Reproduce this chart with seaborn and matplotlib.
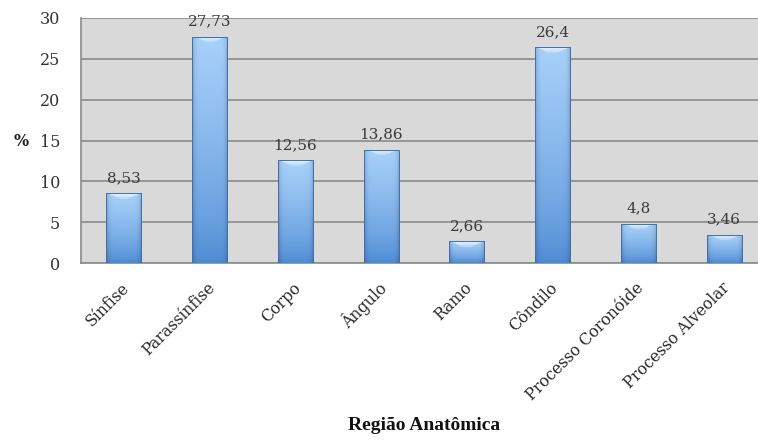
import numpy as np
import pandas as pd
import matplotlib
matplotlib.use("Agg")
import matplotlib.pyplot as plt
import matplotlib.transforms as mtransforms
import seaborn as sns

regioes = ["Sínfise", "Parassínfise", "Corpo", "Ângulo", "Ramo", "Côndilo",
           "Processo Coronóide", "Processo Alveolar"]
percentuais = [8.53, 27.73, 12.56, 13.86, 2.66, 26.4, 4.8, 3.46]
rotulos = ["8,53", "27,73", "12,56", "13,86", "2,66", "26,4", "4,8", "3,46"]
y_ticks = [0, 5, 10, 15, 20, 25, 30]

df = pd.DataFrame({"regiao": regioes, "pct": percentuais})

sns.set_theme(style="white")
plt.rcParams["font.family"] = ["DejaVu Serif"]

fig = plt.figure(figsize=(7.58, 4.42), dpi=100)
ax = fig.add_axes([81 / 758, (442 - 263) / 442, 686 / 758, 245 / 442])
ax.set_facecolor("#d9d9d9")

sns.barplot(data=df, x="regiao", y="pct", color="#6fa6e6", width=0.41,
            ax=ax, zorder=3, linewidth=0)

ax.set_ylim(0, 30)
ax.set_xlim(-0.5, len(regioes) - 0.5)
ax.set_yticks(y_ticks)
ax.set_yticklabels([str(v) for v in y_ticks], fontsize=11.5, color="#333333")
ax.yaxis.grid(True, color="#8a8a8a", linewidth=1.2, zorder=1)
ax.set_axisbelow(True)

# x ticks at the category boundaries, labels at the centres
ax.set_xticks(np.arange(len(regioes)))
ax.set_xticklabels(regioes, rotation=45, ha="right", va="center",
                   rotation_mode="anchor", fontsize=11.3, color="#2a2a2a")
ax.tick_params(axis="x", which="major", length=0, pad=16)
shift = mtransforms.ScaledTranslation(3 / 100, 0, fig.dpi_scale_trans)
for lbl in ax.get_xticklabels():
    lbl.set_transform(lbl.get_transform() + shift)
ax.set_xticks(np.arange(-0.5, len(regioes) + 0.5, 1), minor=True)
ax.tick_params(axis="x", which="minor", length=5, color="#8a8a8a", width=1.2, direction="out")
ax.tick_params(axis="y", length=5, color="#8a8a8a", width=1.2, direction="out", pad=10)

for s in ["top", "right"]:
    ax.spines[s].set_visible(False)
for s in ["left", "bottom"]:
    ax.spines[s].set_color("#8a8a8a")
    ax.spines[s].set_linewidth(1.2)

ax.set_xlabel("")
ax.set_ylabel("")
fig.text(424 / 758, 1 - 425 / 442, "Região Anatômica", fontsize=14,
         fontweight="bold", ha="center", va="center", color="#111111",
         family="Liberation Serif")
fig.text(21 / 758, 1 - 142 / 442, "%", fontsize=11.5, fontweight="bold",
         ha="center", va="center", color="#222222")

# gradient fill for each bar, with darker sides and a bevelled top
dark = np.array([0.23, 0.49, 0.80])
light = np.array([0.66, 0.82, 0.98])
px_per_unit = 245 / 30
m = 40
xs = np.linspace(-1, 1, m)
for patch, val, lab in zip(ax.patches, percentuais, rotulos):
    x0 = patch.get_x()
    w = patch.get_width()
    h = patch.get_height()
    n = max(int(h * px_per_unit), 2)
    t = np.linspace(0, 1, n)[:, None]  # 0 bottom -> 1 top
    col = dark + (light - dark) * (0.15 + 0.85 * t[..., None] ** 0.7)
    col = np.broadcast_to(col, (n, m, 3)).copy()
    shade = 1 - 0.22 * np.abs(xs) ** 8
    col *= shade[None, :, None]
    bev = int(min(6, n / 3))
    for k in range(bev):
        a = 0.85 * (1 - k / (bev + 1))
        inner = np.abs(xs) <= 1 - 0.12 * (k + 1)
        row = col[n - 1 - k]
        row[inner] = row[inner] * (1 - a) + np.array([0.95, 0.98, 1.0]) * a
    col = np.clip(col, 0, 1)
    img = ax.imshow(col, extent=[x0, x0 + w, 0, h], origin="lower",
                    aspect="auto", zorder=4, interpolation="bilinear")
    img.set_clip_path(patch)
    ax.plot([x0, x0, x0 + w, x0 + w], [0, h, h, 0], color="#3f6fae",
            linewidth=0.7, zorder=5)
    ax.annotate(lab, (x0 + w / 2, h), xytext=(0, 8), textcoords="offset points",
                ha="center", va="baseline", fontsize=11, color="#3a3a3a", zorder=6)

ax.set_xlim(-0.5, len(regioes) - 0.5)
ax.set_ylim(0, 30)

fig.savefig("out.png", dpi=100)
